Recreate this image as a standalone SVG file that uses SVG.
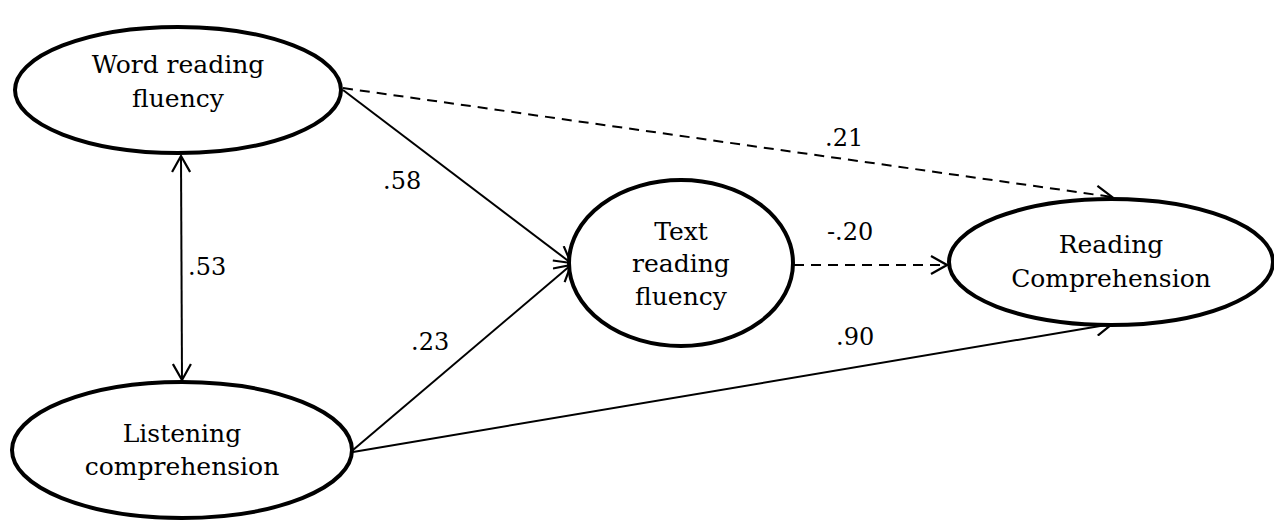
<svg xmlns="http://www.w3.org/2000/svg" width="1274" height="520" viewBox="0 0 1274 520">
<style>
.node{fill:#fff;stroke:#000;stroke-width:4}
.lbl{font-family:"DejaVu Serif","Liberation Serif",serif;font-size:25px;fill:#000;text-anchor:middle}
.coef{font-family:"DejaVu Serif","Liberation Serif",serif;font-size:24px;fill:#000}
.c{fill:none;stroke:#000;stroke-width:2}
.d{stroke-dasharray:10,7}
</style>
<defs>
<marker id="ah" viewBox="0 0 20 20" refX="18" refY="10" markerWidth="20" markerHeight="20" markerUnits="userSpaceOnUse" orient="auto-start-reverse">
<path d="M2,1 L18,10 L2,19" fill="none" stroke="#000" stroke-width="2.2"/>
</marker>
</defs>
<rect width="1274" height="520" fill="#fff"/>
<g id="connectors">
<line class="c d" x1="343" y1="88" x2="1112" y2="197" marker-end="url(#ah)"/>
<line class="c" x1="343" y1="90" x2="571" y2="263" marker-end="url(#ah)"/>
<line class="c" x1="353" y1="450" x2="571" y2="265" marker-end="url(#ah)"/>
<line class="c" x1="353" y1="452" x2="1112" y2="324" marker-end="url(#ah)"/>
<line class="c d" x1="794" y1="265" x2="947" y2="265" marker-end="url(#ah)"/>
<line class="c" x1="181" y1="156" x2="182" y2="380" marker-start="url(#ah)" marker-end="url(#ah)"/>
</g>
<g id="n-wrf">
<ellipse class="node" cx="178" cy="90" rx="163" ry="63"/>
<text class="lbl" x="178" y="73">Word reading</text>
<text class="lbl" x="178" y="107">fluency</text>
</g>
<g id="n-lc">
<ellipse class="node" cx="182" cy="450" rx="170" ry="68"/>
<text class="lbl" x="182" y="442">Listening</text>
<text class="lbl" x="182" y="475">comprehension</text>
</g>
<g id="n-trf">
<ellipse class="node" cx="681" cy="263" rx="112" ry="83"/>
<text class="lbl" x="681" y="240">Text</text>
<text class="lbl" x="681" y="272">reading</text>
<text class="lbl" x="681" y="305">fluency</text>
</g>
<g id="n-rc">
<ellipse class="node" cx="1111" cy="262" rx="162" ry="63"/>
<text class="lbl" x="1111" y="253">Reading</text>
<text class="lbl" x="1111" y="287">Comprehension</text>
</g>
<g id="labels">
<text class="coef" x="825" y="146">.21</text>
<text class="coef" x="383" y="189">.58</text>
<text class="coef" x="188" y="275">.53</text>
<text class="coef" x="411" y="350">.23</text>
<text class="coef" x="827" y="240">-.20</text>
<text class="coef" x="836" y="345">.90</text>
</g>
</svg>
